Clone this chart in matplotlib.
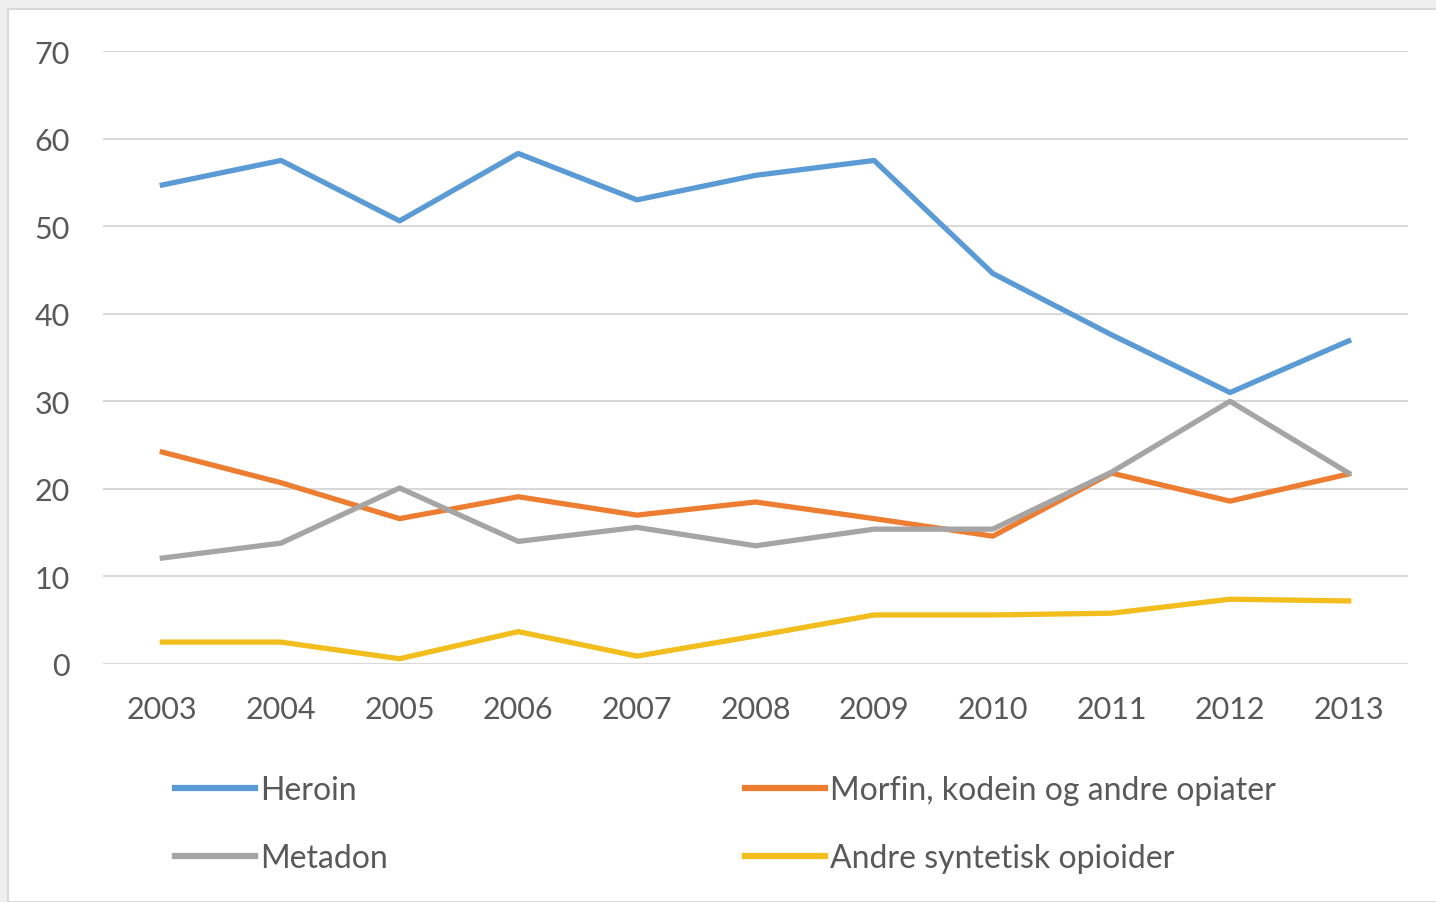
import matplotlib
matplotlib.use("Agg")
import matplotlib.pyplot as plt
from matplotlib.patches import Rectangle

years = ["2003", "2004", "2005", "2006", "2007", "2008", "2009", "2010", "2011", "2012", "2013"]
heroin = [54.7, 57.5, 50.6, 58.3, 53.0, 55.8, 57.5, 44.6, 37.6, 31.0, 36.9]
morfin = [24.2, 20.7, 16.6, 19.1, 17.0, 18.5, 16.6, 14.6, 21.8, 18.6, 21.7]
metadon = [12.1, 13.8, 20.1, 14.0, 15.6, 13.5, 15.4, 15.4, 21.9, 30.0, 21.8]
andre = [2.5, 2.5, 0.6, 3.7, 0.9, 3.2, 5.6, 5.6, 5.8, 7.4, 7.2]
yticks = [0, 10, 20, 30, 40, 50, 60, 70]

plt.rcParams['font.family'] = ['Lato', 'DejaVu Sans']
txt = '#595959'

fig = plt.figure(figsize=(14.36, 9.03), dpi=100)
fig.patch.set_facecolor('#efefef')
fig.add_artist(Rectangle((8/1436, 0), 1, 1 - 10/903, transform=fig.transFigure,
                         facecolor='white', edgecolor='#d9d9d9', linewidth=1.5, zorder=0))

ax = fig.add_axes([103/1436, 1 - 665/903, (1408-103)/1436, (665-52)/903])
ax.set_facecolor('none')
x = list(range(len(years)))
ax.plot(x, heroin, color='#5B9BD5', lw=3.8, label='Heroin')
ax.plot(x, morfin, color='#ED7D31', lw=3.8, label='Morfin, kodein og andre opiater')
ax.plot(x, metadon, color='#A5A5A5', lw=3.8, label='Metadon')
ax.plot(x, andre, color='#F2BE1D', lw=3.8, label='Andre syntetisk opioider')

ax.set_xlim(-0.5, len(years) - 0.5)
ax.set_ylim(0, 70)
ax.set_yticks(yticks)
ax.set_xticks(x)
ax.set_xticklabels(years)
ax.grid(axis='y', color='#d9d9d9', lw=1.5)
ax.set_axisbelow(True)
for s in ax.spines.values():
    s.set_visible(False)
ax.tick_params(length=0, labelsize=22, colors=txt)
ax.tick_params(axis='y', pad=24)
ax.tick_params(axis='x', pad=22)

h, l = ax.get_legend_handles_labels()
order = [0, 2, 1, 3]
leg = fig.legend([h[i] for i in order], [l[i] for i in order], ncol=2,
                 loc='upper left', bbox_to_anchor=(175/1436, 1 - 776/903),
                 frameon=False, fontsize=23, handlelength=2.5, handletextpad=0.15,
                 columnspacing=11.2, labelspacing=1.2, labelcolor=txt,
                 borderpad=0, borderaxespad=0)
for lh in leg.get_lines():
    lh.set_linewidth(4.5)

fig.savefig('out.png', dpi=100, facecolor=fig.get_facecolor())
